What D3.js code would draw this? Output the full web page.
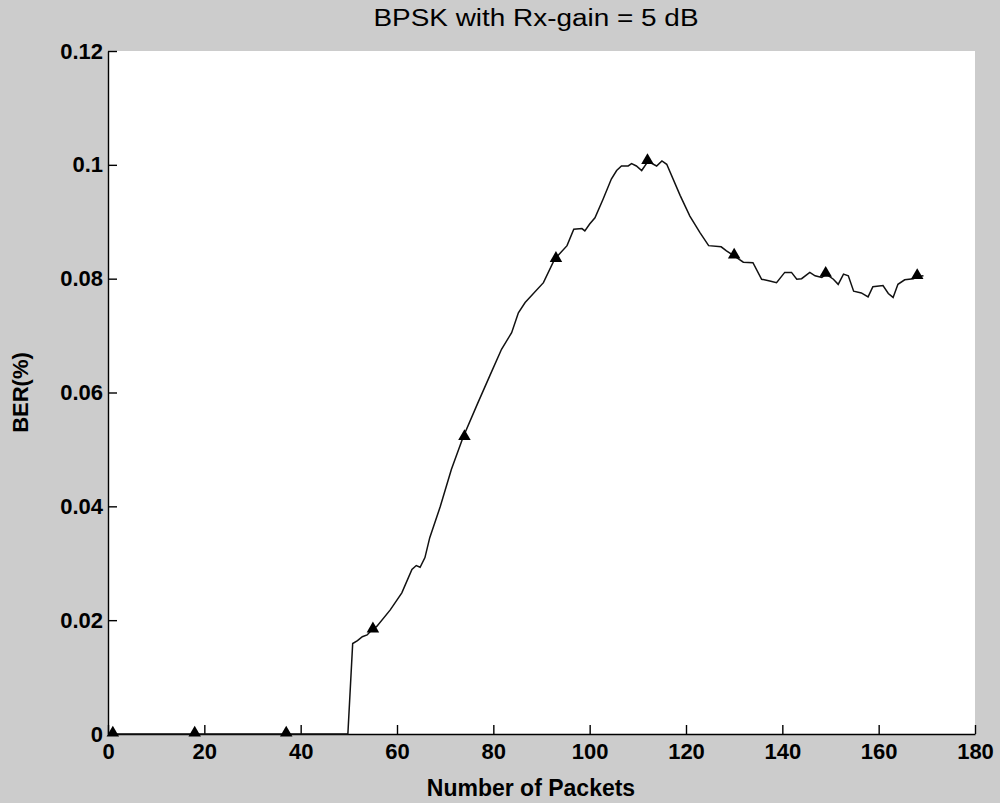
<!DOCTYPE html>
<html>
<head>
<meta charset="utf-8">
<script src="https://cdn.jsdelivr.net/npm/d3@7"></script>
<style>
  html, body { margin: 0; padding: 0; background: #cccccc; }
  svg { display: block; }
</style>
</head>
<body>
<div id="chart"></div>
<script>
// BER curve (x = packet number, y = BER)
const lineX = [1, 49.8, 50.8, 51.8, 52.8, 53.8, 54.8, 55.8, 58.6, 61.0, 63.1, 64.0, 64.8, 65.8, 66.8,
  69.0, 71.3, 73.7, 76.7, 79.3, 81.7, 83.8, 85.2, 86.6, 90.4, 92.7, 95.3, 96.7, 98.4, 99.0,
  100.0, 101.1, 102.8, 104.5, 105.6, 106.6, 108.0, 108.7, 109.7, 110.8, 112.1, 113.9, 115.0, 116.0,
  118.8, 120.8, 122.9, 124.7, 127.3, 128.4, 130.0, 131.9, 133.9, 135.7, 137.4, 138.8, 140.5, 141.9,
  143.0, 144.0, 145.7, 146.8, 148.2, 149.1, 150.6, 151.6, 152.7, 153.7, 154.8, 156.4, 157.8, 158.8,
  160.9, 162.0, 163.0, 164.0, 165.4, 167.2, 168.2, 169.3];
const lineY = [0, 0, 0.0159, 0.0164, 0.0171, 0.0174, 0.0183, 0.0189, 0.0218, 0.0248, 0.0289, 0.0296, 0.0293, 0.0310, 0.0345,
  0.0400, 0.0465, 0.0521, 0.0580, 0.0630, 0.0676, 0.0705, 0.0740, 0.0758, 0.0793, 0.0834, 0.0858, 0.0887, 0.0888, 0.0884,
  0.0896, 0.0907, 0.0940, 0.0975, 0.0990, 0.0998, 0.0998, 0.1002, 0.0998, 0.0990, 0.1006, 0.0998, 0.1007, 0.1001,
  0.0946, 0.0910, 0.0881, 0.0858, 0.0856, 0.0849, 0.0840, 0.0829, 0.0828, 0.0799, 0.0796, 0.0793, 0.0811, 0.0811,
  0.0799, 0.0800, 0.0811, 0.0805, 0.0802, 0.0808, 0.0799, 0.0790, 0.0808, 0.0805, 0.0778, 0.0775, 0.0768, 0.0786,
  0.0788, 0.0774, 0.0767, 0.0790, 0.0798, 0.0800, 0.0804, 0.0805];

// triangle markers
const markerX = [1, 18, 37, 55, 74, 93, 112, 130, 149, 168];
const markerY = [0, 0, 0, 0.0183, 0.0521, 0.0834, 0.1006, 0.0840, 0.0808, 0.0804];

const xTicks = [0, 20, 40, 60, 80, 100, 120, 140, 160, 180];
const yTicks = [0, 0.02, 0.04, 0.06, 0.08, 0.1, 0.12];
const yTickLabels = ['0', '0.02', '0.04', '0.06', '0.08', '0.1', '0.12'];

const width = 1000;
const height = 803;
const margin = {top: 51, right: 25, bottom: 69, left: 108};
const plotW = width - margin.left - margin.right;
const plotH = height - margin.top - margin.bottom;

const svg = d3.select('#chart')
  .append('svg')
  .attr('width', width)
  .attr('height', height)
  .style('font-family', 'Arial, "Liberation Sans", sans-serif');

svg.append('rect')
  .attr('width', width)
  .attr('height', height)
  .attr('fill', '#cccccc');

const g = svg.append('g')
  .attr('transform', `translate(${margin.left},${margin.top})`);

// white axes area
g.append('rect')
  .attr('width', plotW)
  .attr('height', plotH)
  .attr('fill', '#fff');

const x = d3.scaleLinear().domain([0, 180]).range([0, plotW]);
const y = d3.scaleLinear().domain([0, 0.12]).range([plotH, 0]);

// axes, ticks pointing inward like matlab
const xAxis = g.append('g')
  .attr('transform', `translate(0,${plotH})`)
  .call(d3.axisBottom(x).tickValues(xTicks).tickFormat(d3.format('d'))
    .tickSizeInner(-9).tickSizeOuter(0).tickPadding(9));

const yAxis = g.append('g')
  .call(d3.axisLeft(y).tickValues(yTicks).tickFormat((d, i) => yTickLabels[i])
    .tickSizeInner(-9).tickSizeOuter(0).tickPadding(5));

[xAxis, yAxis].forEach(ax => {
  ax.select('.domain').attr('stroke', '#000').attr('stroke-width', 1.4);
  ax.selectAll('.tick line').attr('stroke', '#000').attr('stroke-width', 1.4);
  ax.selectAll('.tick text')
    .attr('fill', '#000')
    .style('font-size', '22px')
    .style('font-weight', 'bold');
});

// BER curve
const line = d3.line()
  .x(d => x(d[0]))
  .y(d => y(d[1]));

g.append('path')
  .datum(d3.zip(lineX, lineY))
  .attr('d', line)
  .attr('fill', 'none')
  .attr('stroke', '#111')
  .attr('stroke-width', 1.5);

// markers
g.selectAll('.marker')
  .data(d3.zip(markerX, markerY))
  .enter()
  .append('path')
  .attr('class', 'marker')
  .attr('d', d3.symbol().type(d3.symbolTriangle).size(68))
  .attr('transform', d => `translate(${x(d[0])},${y(d[1]) - 1})`)
  .attr('fill', '#000');

// title and axis labels
svg.append('text')
  .attr('x', 536)
  .attr('y', 26)
  .attr('text-anchor', 'middle')
  .attr('textLength', 325)
  .attr('lengthAdjust', 'spacingAndGlyphs')
  .style('font-size', '23px')
  .text('BPSK with Rx-gain = 5 dB');

svg.append('text')
  .attr('x', 531)
  .attr('y', 796)
  .attr('text-anchor', 'middle')
  .style('font-size', '23px')
  .style('font-weight', 'bold')
  .text('Number of Packets');

svg.append('text')
  .attr('transform', `translate(28,${margin.top + plotH / 2}) rotate(-90)`)
  .attr('text-anchor', 'middle')
  .style('font-size', '22px')
  .style('font-weight', 'bold')
  .text('BER(%)');
</script>
</body>
</html>
